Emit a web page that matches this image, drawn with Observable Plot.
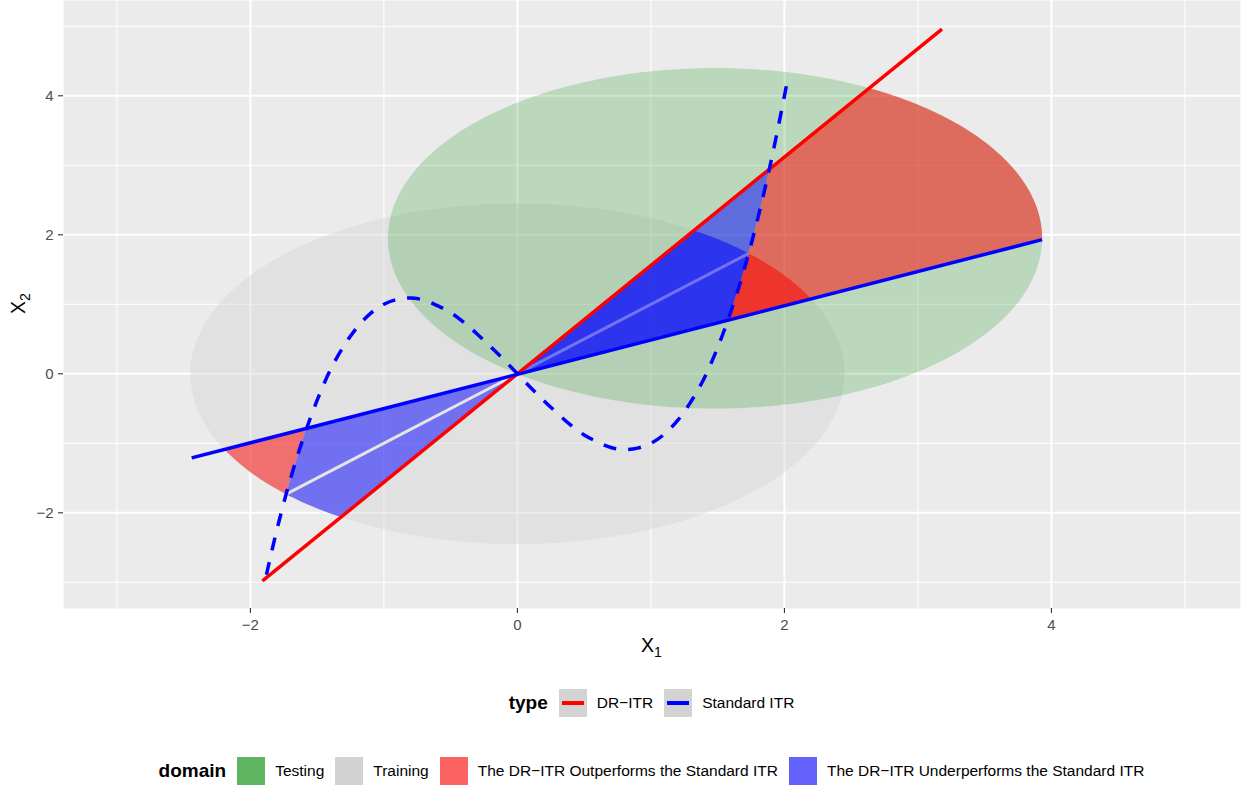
<!DOCTYPE html>
<html><head><meta charset="utf-8">
<script src="https://cdn.jsdelivr.net/npm/d3@7"></script>
<script src="https://cdn.jsdelivr.net/npm/@observablehq/plot@0.6"></script>
<style>
body{margin:0;background:#fff;font-family:"Liberation Sans",Arial,sans-serif;}
#wrap{position:relative;width:1244px;height:786px;}
.row{position:absolute;left:0;width:1303px;height:28px;display:flex;justify-content:center;align-items:center;white-space:nowrap;color:#000;}
.tt{font-weight:bold;font-size:19px;margin-right:11px;}
.key{width:28px;height:28px;margin-right:10px;position:relative;flex:none;}
.lb{font-size:15.5px;margin-right:11px;}
.lb:last-child{margin-right:0;}
.key .seg{position:absolute;left:3px;width:22px;top:12.25px;height:3.5px;}
</style></head><body><div id="wrap"><div id="chart"></div></div>
<script>
// ---------- data ----------
// Standard ITR (dashed curve)
const curveX = [-1.88,-1.8,-1.7,-1.6,-1.5,-1.4,-1.3,-1.2,-1.1,-1.0,-0.9,-0.8,-0.7,-0.6,-0.5,-0.4,-0.3,-0.2,-0.1,0,0.1,0.2,0.3,0.4,0.5,0.6,0.7,0.8,0.9,1.0,1.1,1.2,1.3,1.4,1.5,1.6,1.7,1.8,1.9,2.0,2.03];
const curveY = [-2.89,-2.23,-1.51,-0.90,-0.38,0.06,0.40,0.67,0.87,1.00,1.07,1.09,1.06,0.98,0.88,0.74,0.57,0.39,0.20,0,-0.20,-0.39,-0.57,-0.74,-0.88,-0.98,-1.06,-1.09,-1.07,-1.00,-0.87,-0.67,-0.40,-0.06,0.38,0.90,1.51,2.23,3.06,4.00,4.30];
// DR-ITR line (red) and Standard ITR line (blue)
const drX = [-1.91, 3.18], drY = [-2.98, 4.96];
const stdX = [-2.44, 3.93], stdY = [-1.21, 1.93];
// domains (circles)
const domainNames = ["Testing", "Training"];
const domainCX = [1.48, 0];
const domainCY = [1.95, 0];
const domainR = [2.45, 2.45];
// regions: vertices; "~" means follow the domain circle to the next vertex
const regionDomain = ["Training","Training","Training","Training","Training","Training","Testing","Testing"];
const regionResult = ["Out","Under","Under","Under","Under","Out","Under","Out"];
const regionVertices = [
  [[-2.196,-1.087],[-1.58,-0.782],[-1.6,-0.90],[-1.7,-1.51],[-1.732,-1.732],"~",[-2.196,-1.087]],
  [[0,0],[-1.58,-0.782],[-1.6,-0.90],[-1.7,-1.51],[-1.732,-1.732]],
  [[0,0],[-1.732,-1.732],"~",[-1.322,-2.062]],
  [[0,0],[1.58,0.782],[1.6,0.90],[1.7,1.51],[1.732,1.732]],
  [[0,0],[1.732,1.732],"~",[1.322,2.062]],
  [[1.58,0.782],[2.196,1.087],"~",[1.732,1.732],[1.7,1.51],[1.6,0.90]],
  [[0,0],[1.58,0.782],[1.6,0.90],[1.7,1.51],[1.8,2.23],[1.887,2.943]],
  [[1.58,0.782],[3.93,1.945],"~",[2.635,4.11],[1.887,2.943],[1.8,2.23],[1.7,1.51],[1.6,0.90]]
];
// seam between the training regions
const seamX = [-1.732, 1.732], seamY = [-1.732, 1.732];
// ticks
const majorTicks = [-2, 0, 2, 4];
const minorTicks = [-3, -1, 1, 3, 5];
// legends
const typeNames = ["DR\u2212ITR", "Standard ITR"];
const domainLegendNames = ["Testing", "Training", "The DR\u2212ITR Outperforms the Standard ITR", "The DR\u2212ITR Underperforms the Standard ITR"];

// ---------- styles ----------
const typeColors = ["#ff0000", "#0000ff"];
const domainKeyColors = ["#60b660", "#d3d3d3", "#fb6363", "#6363fb"];
const resultFill = {Out: "#ff0000", Under: "#0000ff"};

// ---------- geometry helpers ----------
function circlePoints(i) {
  const pts = [];
  for (let k = 0; k <= 360; k++) {
    const a = k * Math.PI / 180;
    pts.push({x: domainCX[i] + domainR[i] * Math.cos(a), y: domainCY[i] + domainR[i] * Math.sin(a)});
  }
  return pts;
}
function arcBetween(i, p0, p1) {
  const cx = domainCX[i], cy = domainCY[i], r = domainR[i];
  const a0 = Math.atan2(p0[1] - cy, p0[0] - cx);
  let d = Math.atan2(p1[1] - cy, p1[0] - cx) - a0;
  while (d > Math.PI) d -= 2 * Math.PI;
  while (d < -Math.PI) d += 2 * Math.PI;
  const n = Math.max(2, Math.ceil(Math.abs(d) / (Math.PI / 180)));
  const out = [];
  for (let k = 1; k < n; k++) {
    const a = a0 + d * k / n;
    out.push({x: cx + r * Math.cos(a), y: cy + r * Math.sin(a)});
  }
  return out;
}
function regionPoints(j) {
  const di = domainNames.indexOf(regionDomain[j]);
  const v = regionVertices[j];
  const pts = [];
  for (let k = 0; k < v.length; k++) {
    if (v[k] === "~") { pts.push(...arcBetween(di, v[k - 1], v[k + 1])); continue; }
    pts.push({x: v[k][0], y: v[k][1]});
  }
  return pts;
}

const curve = curveX.map((x, i) => ({x, y: curveY[i]}));
const drLine = drX.map((x, i) => ({x, y: drY[i]}));
const stdLine = stdX.map((x, i) => ({x, y: stdY[i]}));
const seam = seamX.map((x, i) => ({x, y: seamY[i]}));
const fmt = d => d < 0 ? "\u2212" + Math.abs(d) : String(d);

const regionMark = j => Plot.line(regionPoints(j), {x: "x", y: "y", fill: resultFill[regionResult[j]], fillOpacity: 0.5, stroke: "none", curve: "linear"});
const trainingIdx = regionDomain.map((d, j) => d === "Training" ? j : -1).filter(j => j >= 0);
const testingIdx = regionDomain.map((d, j) => d === "Testing" ? j : -1).filter(j => j >= 0);

const chart = Plot.plot({
  width: 1244, height: 665,
  marginLeft: 63, marginRight: 4, marginTop: 0, marginBottom: 57,
  x: {domain: [-3.40, 5.416]},
  y: {domain: [-3.377, 5.371]},
  style: {fontFamily: "'Liberation Sans', Arial, sans-serif", background: "white", overflow: "visible"},
  marks: [
    Plot.frame({fill: "#ebebeb", stroke: "none"}),
    Plot.gridX(minorTicks, {stroke: "#ffffff", strokeOpacity: 1, strokeWidth: 1}),
    Plot.gridY(minorTicks, {stroke: "#ffffff", strokeOpacity: 1, strokeWidth: 1}),
    Plot.gridX(majorTicks, {stroke: "#ffffff", strokeOpacity: 1, strokeWidth: 2}),
    Plot.gridY(majorTicks, {stroke: "#ffffff", strokeOpacity: 1, strokeWidth: 2}),
    Plot.line(circlePoints(1), {x: "x", y: "y", fill: "#d3d3d3", fillOpacity: 0.4, stroke: "none"}),
    Plot.line(circlePoints(0), {x: "x", y: "y", fill: "#008c00", fillOpacity: 0.2, stroke: "none"}),
    ...trainingIdx.map(regionMark),
    Plot.line(seam, {x: "x", y: "y", stroke: "#e5e5e5", strokeWidth: 3, strokeLinecap: "butt"}),
    ...testingIdx.map(regionMark),
    Plot.line(drLine, {x: "x", y: "y", stroke: typeColors[0], strokeWidth: 3.5, strokeLinecap: "butt"}),
    Plot.line(stdLine, {x: "x", y: "y", stroke: typeColors[1], strokeWidth: 3.5, strokeLinecap: "butt"}),
    Plot.line(curve, {x: "x", y: "y", stroke: typeColors[1], strokeWidth: 3.5, strokeDasharray: "13,12", strokeLinecap: "butt", curve: "catmull-rom"}),
    Plot.axisX(majorTicks, {tickSize: 5, tickPadding: 6, tickFormat: fmt, fontSize: 15, color: "#4d4d4d", stroke: "#333333", strokeWidth: 1.1, label: null}),
    Plot.axisY(majorTicks, {tickSize: 5, tickPadding: 5, tickFormat: fmt, fontSize: 15, color: "#4d4d4d", stroke: "#333333", strokeWidth: 1.1, label: null})
  ]
});
document.getElementById("chart").appendChild(chart);

// axis titles with subscripts
const svg = d3.select(chart);
const xt = svg.append("text").attr("x", 651.5).attr("y", 652).attr("text-anchor", "middle")
  .attr("fill", "#000").style("font-size", "19.5px").style("font-family", "'Liberation Sans', Arial, sans-serif");
xt.append("tspan").text("X");
xt.append("tspan").attr("dy", 5).style("font-size", "14px").text("1");
const yt = svg.append("text").attr("transform", "translate(25,303.5) rotate(-90)").attr("text-anchor", "middle")
  .attr("fill", "#000").style("font-size", "19.5px").style("font-family", "'Liberation Sans', Arial, sans-serif");
yt.append("tspan").text("X");
yt.append("tspan").attr("dy", 5).style("font-size", "14px").text("2");

// legends
const wrap = document.getElementById("wrap");
function legendRow(top, title, names, build) {
  const row = document.createElement("div");
  row.className = "row"; row.style.top = top + "px";
  const t = document.createElement("span"); t.className = "tt"; t.textContent = title; row.appendChild(t);
  names.forEach((n, i) => {
    const k = document.createElement("div"); k.className = "key"; build(k, i); row.appendChild(k);
    const l = document.createElement("span"); l.className = "lb"; l.textContent = n; row.appendChild(l);
  });
  wrap.appendChild(row);
}
legendRow(689, "type", typeNames, (k, i) => {
  k.style.background = "#d3d3d3";
  const s = document.createElement("div"); s.className = "seg"; s.style.background = typeColors[i]; k.appendChild(s);
});
legendRow(757, "domain", domainLegendNames, (k, i) => { k.style.background = domainKeyColors[i]; });
</script>
</body></html>
